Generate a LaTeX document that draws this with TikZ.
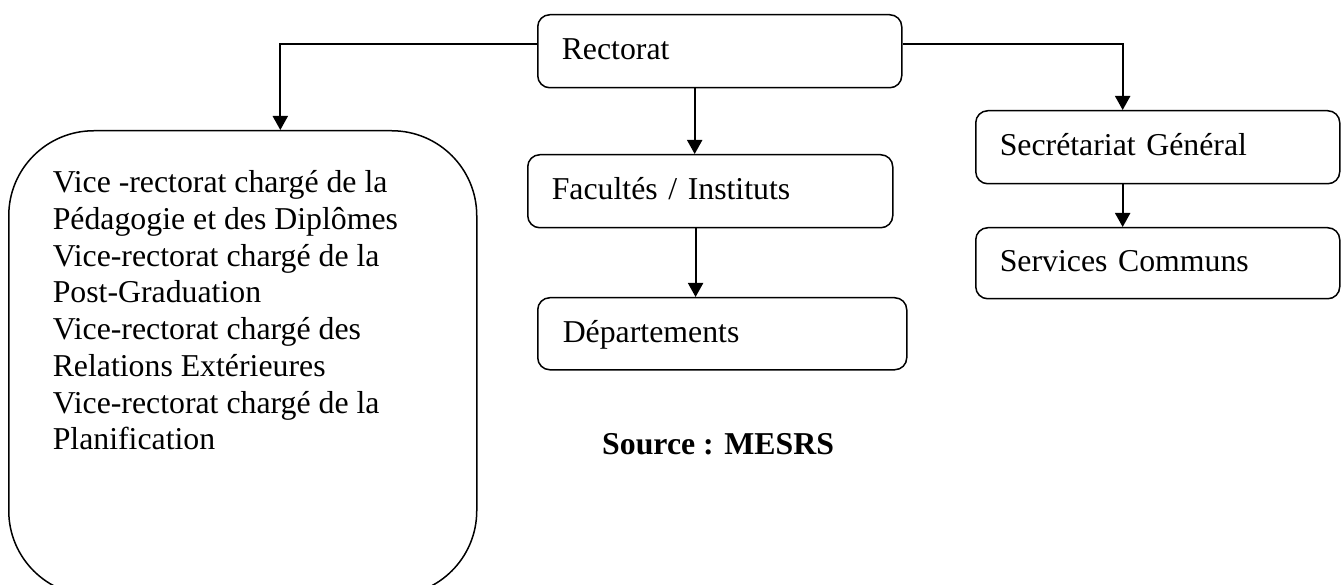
\documentclass[tikz,border=0pt]{standalone}
\usepackage{fontspec}
\setmainfont{Liberation Serif}
\usetikzlibrary{arrows.meta,calc}
\begin{document}
\begin{tikzpicture}[x=1pt,y=1pt,
  box/.style={draw, line width=1.5pt, rounded corners=12pt, anchor=north west, align=left,
    inner xsep=24pt, inner ysep=0pt, text height=17pt, text depth=0pt,
    font=\fontsize{31.8}{36.7}\selectfont},
  bigbox/.style={draw, line width=1.5pt, rounded corners=85pt, anchor=north west, inner sep=0pt,
    font=\fontsize{31.8}{36.7}\selectfont},
  conn/.style={line width=2pt, -{Triangle[width=15pt,length=14pt]}}]
\useasboundingbox (0,0) rectangle (1341,-585);
\clip (0,0) rectangle (1341,-585);
\node[box, minimum width=364pt, minimum height=73pt, text width=316pt] (rect) at (537,-14) {Rectorat};
\node[box, minimum width=365pt, minimum height=73pt, text width=317pt] (fac) at (527,-154) {Facultés / Instituts};
\node[box, minimum width=369pt, minimum height=72pt, text width=319pt, inner xsep=25pt] (dep) at (537,-297) {Départements};
\node[box, minimum width=364pt, minimum height=73pt, text width=316pt] (sg) at (975,-110) {Secrétariat Général};
\node[box, minimum width=364pt, minimum height=71pt, text width=316pt] (sc) at (975,-227) {Services Communs};
\node[bigbox] (vice) at (8,-130) {\parbox[t][465pt][t]{468pt}{\leftskip=44pt\relax\vspace*{40pt}\noindent
Vice -rectorat chargé de la\\
Pédagogie et des Diplômes\\
Vice-rectorat chargé de la\\
Post-Graduation\\
Vice-rectorat chargé des\\
Relations Extérieures\\
Vice-rectorat chargé de la\\
Planification}};
\node[anchor=base west, inner sep=0pt, font=\bfseries\fontsize{31.8}{36.7}\selectfont] (src) at (602,-454) {Source : MESRS};
\coordinate (vin) at ($(vice.north west)!0.58!(vice.north east)$);
\coordinate (rl) at ($(rect.north west)!0.397!(rect.south west)$);
\coordinate (rr) at ($(rect.north east)!0.397!(rect.south east)$);
\coordinate (sgin) at ($(sg.north west)!0.404!(sg.north east)$);
\coordinate (facin) at ($(fac.north west)!0.4575!(fac.north east)$);
\coordinate (depin) at ($(dep.north west)!0.428!(dep.north east)$);
\coordinate (scin) at ($(sc.north west)!0.404!(sc.north east)$);
\draw[conn] (rl) -| (vin);
\draw[conn] (rr) -| (sgin);
\draw[conn] (rect.south -| facin) -- (facin);
\draw[conn] (fac.south -| depin) -- (depin);
\draw[conn] (sg.south -| scin) -- (scin);
\end{tikzpicture}
\end{document}
